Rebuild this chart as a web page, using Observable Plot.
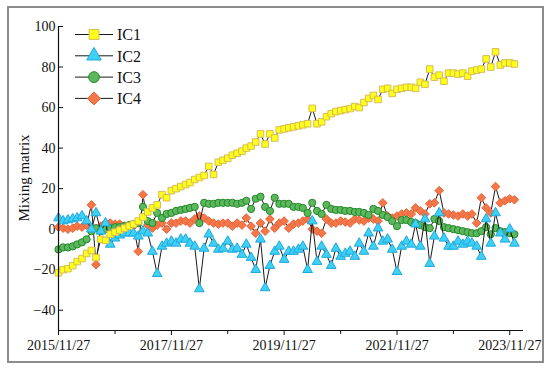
<!DOCTYPE html>
<html><head><meta charset="utf-8">
<script src="https://cdn.jsdelivr.net/npm/d3@7"></script>
<script src="https://cdn.jsdelivr.net/npm/@observablehq/plot@0.6"></script>
<style>
body{margin:0;background:#fff}
#chart{width:550px;height:368px}
</style>
</head><body><div id="chart"></div>
<script>
const series = ["IC1", "IC2", "IC3", "IC4"];
const startDate = "2015/11/27";
const endDate = "2024/02/24";
const ic1 = [-21.5,-20,-19.5,-18,-16,-14.5,-12,-10.5,-14,-5,-5.5,-2.5,-1.5,-0.5,0.5,1.5,2.5,4,6,8.5,10.5,12,17,15.5,19,20,21,22,23,24.5,25.5,26.5,31,27,33,34,35,36.5,37.5,38.5,40,41,43,47,42,47,45,49,49.5,50,50.5,51,51.5,52,59.6,52,53,55.5,57,58,58.5,59,59.5,60.5,60,62.5,64.5,66,64,69,69.5,67,69,69.5,70,70,69.5,72.5,71.5,79,75,76,73,77,77,76.5,77,75.5,78,78.5,79,84,80,87.5,81,82,82,81.5];
const ic2 = [5.5,4,4.5,5,5.5,6.5,4,0,8,-1,3,-7.5,-4.5,-3,-2,-2,-2,-3.5,-1,-2,-11,-22,-8.5,-7,-6,-7,-5,-5,-7,-8.5,-29.5,-9.5,-2.5,-7,-10,-9.5,-6,-10,-9.5,-12.5,-7.5,-14,-20,-5,-29,-18,-11,-8.5,-15,-11,-11,-10,-8.5,-20,4,-16,-8.5,-12.5,-18,-9.5,-13.5,-12,-11,-13.5,-7,-11,-2,-8.5,0.5,-6,-5,-10,-21,-8.5,-6,-7.5,2.5,-8.5,5,-17,-3.5,8,-4.5,-8.5,-8.5,-6,-7.5,-6,-7,-8.5,-13.5,5,-7,8,-2,-5,0,-7];
const ic3 = [-10,-9,-9,-8.5,-7.5,-6.5,-5,-1,0.5,-1,0,0.5,1,1,1.5,2,2.5,3,11,4,3,8,5.5,7.5,8,9,9.5,10,10.5,11,3,13,12.5,12.5,13,13,13,13,12.5,13,14,10,15,16,11,9,15.5,12.5,12.5,12.5,11,11,10.5,8,13,9,7.5,12,10,9.5,9.5,9,9,8.5,8.5,8,7,10,9,7,6,4,1.5,4.5,4.5,3.5,3,2,1,0.5,5,4,1,0.5,0,-0.5,-1,-1.5,-2,-2,-1,1,-2.5,0.5,-1,-1.5,-2,-2.5];
const ic4 = [1,0.5,0,0.5,1.5,1,2,12,-17.5,1.5,3,3,2.5,2.5,1.5,1.5,1.5,-11,17,2,0.5,2,3,0,3,3,4,4,3,5,6.5,5.5,4,3,2.5,3,3,1.5,3,2,5.5,1.5,-2,3,-1,5,0.5,3,4,0.5,2.5,3,4,5,0,-1,-2,5,3,3,4,3.5,3,5,4.5,4,5.5,5,4,13,6.5,5.5,6.5,7.5,8,7.5,10.5,9,7.5,12.5,13,19,8,7.5,7,6.5,7.5,6.5,7.5,3,15.5,10.5,8,21,13,14,15,14.5];
const yTicks = [-40, -20, 0, 20, 40, 60, 80, 100];
const majorTicks = ["2015/11/27", "2017/11/27", "2019/11/27", "2021/11/27", "2023/11/27"];
const minorTicks = ["2016/11/27", "2018/11/27", "2020/11/27", "2022/11/27"];
const yLabel = "Mixing matrix";

const fills = ["#ffff1a", "#3fd0f5", "#5cb85c", "#f37748"];
const strokes = ["#d8bc55", "#1ea8dc", "#24872a", "#e8653a"];
const symbols = ["square", "triangle", "circle", "diamond2"];
const radii = [3.7, 3.6, 3.6, 3.9];

const parse = s => { const [y, m, d] = s.split("/").map(Number); return new Date(Date.UTC(y, m - 1, d)); };
const fmt = d => `${d.getUTCFullYear()}/${d.getUTCMonth() + 1}/${d.getUTCDate()}`;
const start = parse(startDate);
const values = [ic1, ic2, ic3, ic4];
const rows = series.map((s, k) => values[k].map((v, i) => ({series: s, date: d3.utcMonth.offset(start, i), value: v})));

const font = "'Liberation Serif', 'Times New Roman', serif";
const marks = [];
for (const k of [3, 2, 1, 0]) {
  marks.push(Plot.line(rows[k], {x: "date", y: "value", stroke: "#1a1a1a", strokeWidth: 1}));
  marks.push(Plot.dot(rows[k], {x: "date", y: "value", symbol: () => symbols[k], r: radii[k], fill: fills[k], stroke: strokes[k], strokeWidth: 1}));
}

const chart = Plot.plot({
  width: 550, height: 368,
  marginTop: 26, marginBottom: 38, marginLeft: 58, marginRight: 27,
  style: {fontFamily: font, fontSize: "14px", color: "#111", background: "#fff"},
  x: {type: "utc", domain: [start, parse(endDate)]},
  y: {domain: [-50, 100]},
  symbol: {type: "identity"},
  marks: [
    Plot.axisY(yTicks, {tickSize: 5, dx: 5, tickFormat: () => "", label: null, stroke: "#111"}),
    Plot.axisY(yTicks, {tickSize: 0, tickPadding: 3, label: null, fontSize: 14,
      tickFormat: d => d < 0 ? "\u2212" + Math.abs(d) : String(d)}),
    Plot.axisX(majorTicks.map(parse), {tickSize: 5, tickPadding: 5, label: null, fontSize: 14, tickFormat: fmt, stroke: "#111"}),
    Plot.axisX(minorTicks.map(parse), {tickSize: 4, tickFormat: () => "", label: null, stroke: "#111"}),
    ...marks,
    Plot.ruleX([start], {stroke: "#111", strokeWidth: 1.2}),
    Plot.ruleY([-50], {stroke: "#111", strokeWidth: 1.2})
  ]
});
document.getElementById("chart").appendChild(chart);

const svg = d3.select(chart);
svg.append("rect").attr("x", 8).attr("y", 7).attr("width", 535).attr("height", 355)
  .attr("fill", "none").attr("stroke", "#8c8c8c").attr("stroke-width", 2);
svg.append("text").attr("transform", "translate(26,178) rotate(-90)")
  .attr("text-anchor", "middle").attr("dominant-baseline", "middle")
  .style("font-family", font).style("font-size", "15px").attr("fill", "#111").text(yLabel);

const lg = svg.append("g");
series.forEach((s, k) => {
  const y = 34.5 + k * 21.3;
  lg.append("line").attr("x1", 75).attr("x2", 113).attr("y1", y).attr("y2", y).attr("stroke", "#1a1a1a").attr("stroke-width", 1);
  const typ = {square: d3.symbolSquare, triangle: d3.symbolTriangle, circle: d3.symbolCircle, diamond2: d3.symbolDiamond2}[symbols[k]];
  const r = radii[k] * 1.5;
  lg.append("path").attr("d", d3.symbol(typ, Math.PI * r * r)()).attr("transform", `translate(94,${y})`)
    .attr("fill", fills[k]).attr("stroke", strokes[k]).attr("stroke-width", 1);
  lg.append("text").attr("x", 117).attr("y", y).attr("dy", "0.36em").attr("text-anchor", "start")
    .style("font-family", font).style("font-size", "16px").attr("fill", "#111").text(s);
});
</script>
</body></html>
